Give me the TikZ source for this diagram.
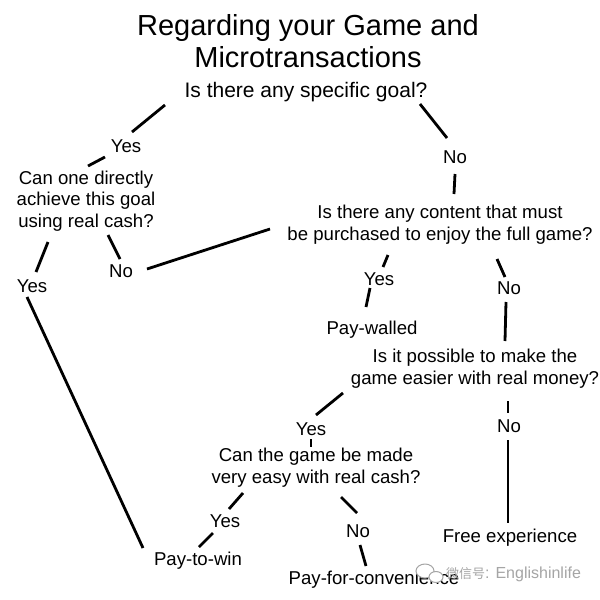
\documentclass[tikz,border=0pt]{standalone}
\usepackage{fontspec}
\setmainfont{Liberation Sans}
\newfontfamily\cjkfont{Noto Sans CJK SC}
\usepackage{tikz}
\usetikzlibrary{calc}
\definecolor{wmgray}{RGB}{165,165,165}

\begin{document}
\begin{tikzpicture}[x=1pt, y=-1pt,
    txt/.style={anchor=base, inner sep=0pt, align=center, font=\fontsize{18.6}{21.5}\selectfont},
    ttl/.style={anchor=base, inner sep=0pt, align=center, font=\fontsize{29}{32}\selectfont},
    link/.style={line width=2.8pt}]
  \useasboundingbox[fill=white] (0,0) rectangle (600,600);
  % ---- title and questions (base = last line) ----
  \node[ttl] (title) at (308,67) {Regarding your Game and\\Microtransactions};
  \node[txt, font=\fontsize{21}{24}\selectfont] (goal) at (306,97) {Is there any specific goal?};
  \node[txt] (cash) at (86,227) {Can one directly\\achieve this goal\\using real cash?};
  \node[txt] (content) at (440,240) {Is there any content that must\\be purchased to enjoy the full game?};
  \node[txt] (easier) at (475,384) {Is it possible to make the\\game easier with real money?};
  \node[txt] (veryeasy) at (316,483) {Can the game be made\\very easy with real cash?};
  % ---- answers ----
  \node[txt] (goalyes) at (126,152) {Yes};
  \node[txt] (goalno) at (455,163) {No};
  \node[txt] (cashno) at (121,277) {No};
  \node[txt] (cashyes) at (32,292) {Yes};
  \node[txt] (contentyes) at (379,285) {Yes};
  \node[txt] (contentno) at (509,294) {No};
  \node[txt] (easieryes) at (311,435) {Yes};
  \node[txt] (easierno) at (509,432) {No};
  \node[txt] (veryyes) at (225,527) {Yes};
  \node[txt] (veryno) at (358,537) {No};
  % ---- outcomes ----
  \node[txt] (paywalled) at (372,334) {Pay-walled};
  \node[txt] (free) at (510,542) {Free experience};
  \node[txt] (paytowin) at (198,565) {Pay-to-win};
  \node[txt] (payconv) at (374,584) {Pay-for-convenience};
  % ---- stroke ends ----
  \coordinate (goal-l) at (165,105);      \coordinate (goalyes-t) at (132,132);
  \coordinate (goalyes-b) at (105,157);   \coordinate (cash-t) at (88,166);
  \coordinate (goal-r) at (420,104);      \coordinate (goalno-t) at (447,138);
  \coordinate (goalno-b) at (455,174);    \coordinate (content-t) at (454,194);
  \coordinate (cash-r) at (108,235);      \coordinate (cashno-t) at (120,259);
  \coordinate (cashno-r) at (147,269);    \coordinate (content-l) at (270,229);
  \coordinate (cash-l) at (48,242);       \coordinate (cashyes-t) at (36,272);
  \coordinate (cashyes-b) at (27,297);    \coordinate (paytowin-l) at (143,548);
  \coordinate (content-bl) at (388,255);  \coordinate (contentyes-t) at (383,267);
  \coordinate (contentyes-b) at (370,288);\coordinate (paywalled-t) at (366,307);
  \coordinate (content-br) at (497,259);  \coordinate (contentno-t) at (505,277);
  \coordinate (contentno-b) at (506,302); \coordinate (easier-t) at (505,341);
  \coordinate (easier-l) at (343,393);    \coordinate (easieryes-t) at (316,415);
  \coordinate (easieryes-b) at (311,439); \coordinate (veryeasy-t) at (311,447);
  \coordinate (easier-b) at (508,401);    \coordinate (easierno-t) at (508,413);
  \coordinate (easierno-b) at (508,440);  \coordinate (free-t) at (508,523);
  \coordinate (veryeasy-l) at (243,493);  \coordinate (veryyes-t) at (229,509);
  \coordinate (veryyes-b) at (213,533);   \coordinate (paytowin-t) at (199,547);
  \coordinate (veryeasy-r) at (341,497);  \coordinate (veryno-t) at (357,513);
  \coordinate (veryno-b) at (360,545);    \coordinate (payconv-t) at (366,566);
  % ---- connectors ----
  \draw[link] (goal-l) -- (goalyes-t);
  \draw[link] (goalyes-b) -- (cash-t);
  \draw[link] (goal-r) -- (goalno-t);
  \draw[link] (goalno-b) -- (content-t);
  \draw[link] (cash-r) -- (cashno-t);
  \draw[link] (cashno-r) -- (content-l);
  \draw[link] (cash-l) -- (cashyes-t);
  \draw[link] (cashyes-b) -- (paytowin-l);
  \draw[link] (content-bl) -- (contentyes-t);
  \draw[link] (contentyes-b) -- (paywalled-t);
  \draw[link] (content-br) -- (contentno-t);
  \draw[link] (contentno-b) -- (easier-t);
  \draw[link] (easier-l) -- (easieryes-t);
  \draw[link] (easieryes-b) -- (veryeasy-t);
  \draw[link] (easier-b) -- (easierno-t);
  \draw[link] (easierno-b) -- (free-t);
  \draw[link] (veryeasy-l) -- (veryyes-t);
  \draw[link] (veryyes-b) -- (paytowin-t);
  \draw[link] (veryeasy-r) -- (veryno-t);
  \draw[link] (veryno-b) -- (payconv-t);
  % ---- watermark ----
  \draw[wmgray, line width=1pt, fill=white] (425,571) ellipse (9 and 7);
  \draw[wmgray, line width=1pt, fill=white] (436,577) ellipse (7 and 5.5);
  \node[anchor=base west, inner sep=0pt, text=wmgray, font=\fontsize{16}{18}\selectfont] (wm) at (446,578)
    {{\cjkfont\fontsize{13}{15}\selectfont 微信号}: Englishinlife};
\end{tikzpicture}
\end{document}
